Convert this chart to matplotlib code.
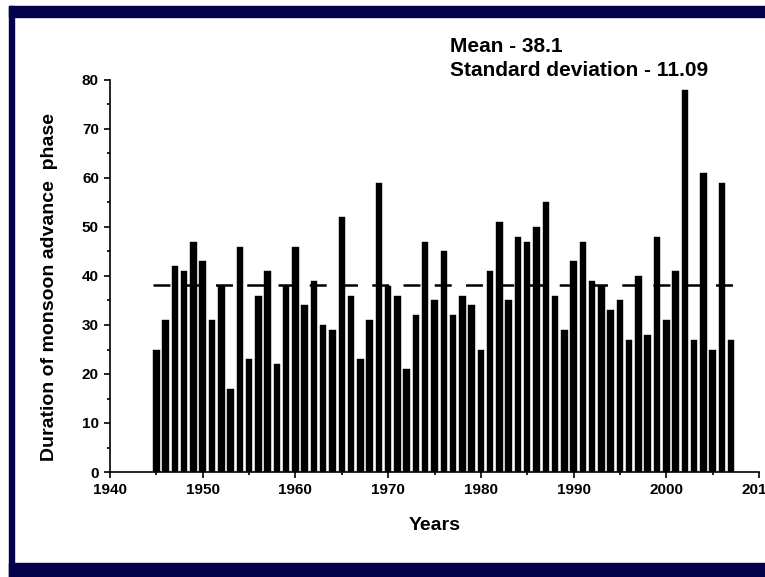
import matplotlib.pyplot as plt
from matplotlib.patches import Rectangle
from matplotlib.ticker import MultipleLocator

plt.rcParams['font.family'] = ['Liberation Sans', 'DejaVu Sans']
plt.rcParams['font.weight'] = 'bold'
plt.rcParams['lines.scale_dashes'] = False

years = list(range(1945, 2008))
duration = [25, 31, 42, 41, 47, 43, 31, 38, 17, 46,
            23, 36, 41, 22, 38, 46, 34, 39, 30, 29,
            52, 36, 23, 31, 59, 38, 36, 21, 32, 47,
            35, 45, 32, 36, 34, 25, 41, 51, 35, 48,
            47, 50, 55, 36, 29, 43, 47, 39, 38, 33,
            35, 27, 40, 28, 48, 31, 41, 78, 27, 61,
            25, 59, 27]
mean_val = 38.1
std_val = 11.09

W, H = 765, 577
fig = plt.figure(figsize=(W / 100, H / 100), dpi=100)

# slide frame
navy = '#03034c'
fig.patches.append(Rectangle((9 / W, 1 - 17 / H), 1, 11 / H, transform=fig.transFigure,
                             color=navy, zorder=0))
fig.patches.append(Rectangle((9 / W, 0), 5 / W, 1 - 6 / H, transform=fig.transFigure,
                             color=navy, zorder=0))
fig.patches.append(Rectangle((9 / W, 0), 1, 14 / H, transform=fig.transFigure,
                             color=navy, zorder=0))

ax = fig.add_axes([110 / W, 1 - 472 / H, (759 - 110) / W, (472 - 80) / H])
ax.bar(years, duration, width=0.7, color='black', edgecolor='black', linewidth=0.3)
ax.plot([years[0] - 0.35, years[-1] + 0.35], [mean_val, mean_val], color='black',
        linewidth=1.8, dashes=(12.2, 10.3))

ax.set_xlim(1940, 2010)
ax.set_ylim(0, 80)
ax.xaxis.set_major_locator(MultipleLocator(10))
ax.xaxis.set_minor_locator(MultipleLocator(5))
ax.yaxis.set_major_locator(MultipleLocator(10))
ax.yaxis.set_minor_locator(MultipleLocator(5))
for s in ['top', 'right']:
    ax.spines[s].set_visible(False)
for s in ['left', 'bottom']:
    ax.spines[s].set_linewidth(1.2)
ax.tick_params(which='major', direction='out', length=4, width=1.2, labelsize=11, pad=4)
ax.tick_params(which='minor', direction='out', length=2.5, width=1.2)

ax.set_xlabel('Years', fontsize=14, fontweight='bold', labelpad=14)
ax.set_ylabel('Duration of monsoon advance  phase', fontsize=14, fontweight='bold')
ax.yaxis.set_label_coords(-0.08, 0.472)

fig.text(450 / W, 1 - 46 / H, 'Mean - ' + str(mean_val), fontsize=15, fontweight='bold',
         va='center', ha='left')
fig.text(450 / W, 1 - 71 / H, 'Standard deviation - ' + str(std_val), fontsize=15,
         fontweight='bold', va='center', ha='left')

fig.savefig('out.png', dpi=100)
